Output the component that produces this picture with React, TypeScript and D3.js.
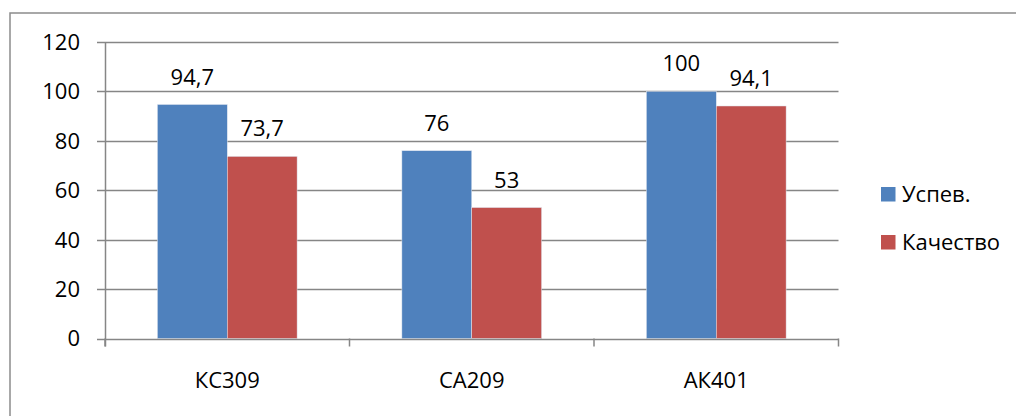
import React from "react";
import * as d3 from "d3";

const categories = ["КС309", "СА209", "АК401"];
const seriesNames = ["Успев.", "Качество"];
const uspev = [94.7, 76, 100];
const kachestvo = [73.7, 53, 94.1];
const yTicks = [0, 20, 40, 60, 80, 100, 120];
const colors = ["#4F81BD", "#C0504D"];

const W = 1016;
const H = 416;
const plot = { left: 105, right: 838.5, top: 42, bottom: 338.5 };
const FONT = "'Open Sans', sans-serif";
const FS = 22;

export default function App() {
  const x = d3.scaleBand<string>().domain(categories).range([plot.left, plot.right]).paddingInner(0).paddingOuter(0);
  const y = d3.scaleLinear().domain([0, 120]).range([plot.bottom, plot.top]);
  const bw = x.bandwidth() / 3.5;
  const series = [uspev, kachestvo];
  const fmt = (v: number) => String(v).replace(".", ",");
  const grid = "#868686";

  return (
    <svg width={W} height={H} style={{ position: "absolute", left: 0, top: 0, background: "#fff" }}>
      <rect x={0} y={0} width={W} height={H} fill="#fff" />
      <rect x={10} y={13} width={W + 20} height={H + 20} fill="none" stroke="#8c8c8c" strokeWidth={1.5} />
      {yTicks.filter((t) => t !== 0).map((t) => (
        <line key={"g" + t} x1={plot.left} x2={plot.right} y1={Math.round(y(t)) + 0.5} y2={Math.round(y(t)) + 0.5} stroke={grid} strokeWidth={1.5} />
      ))}
      {yTicks.map((t) => (
        <line key={"t" + t} x1={plot.left - 8} x2={plot.left} y1={Math.round(y(t)) + 0.5} y2={Math.round(y(t)) + 0.5} stroke={grid} strokeWidth={1.5} />
      ))}
      {categories.map((c, ci) =>
        series.map((s, si) => {
          const x0 = (x(c) as number) + x.bandwidth() / 2 - bw + si * bw;
          return (
            <rect key={c + si} x={x0} y={y(s[ci])} width={bw} height={y(0) - y(s[ci])} fill={colors[si]} stroke="#dfe6f0" strokeWidth={0.5} />
          );
        })
      )}
      <line x1={plot.left + 0.5} x2={plot.left + 0.5} y1={plot.top} y2={plot.bottom + 8} stroke={grid} strokeWidth={1.5} />
      <line x1={plot.left} x2={plot.right} y1={Math.round(y(0)) + 0.5} y2={Math.round(y(0)) + 0.5} stroke={grid} strokeWidth={1.5} />
      {[...categories.map((c) => x(c) as number), plot.right].map((v, i) => (
        <line key={"xt" + i} x1={v} x2={v} y1={plot.bottom} y2={plot.bottom + 8} stroke={grid} strokeWidth={1.5} />
      ))}
      {yTicks.map((t) => (
        <text key={"yl" + t} x={80} y={y(t)} dy="0.36em" textAnchor="end" fontFamily={FONT} fontSize={FS} fill="#000">{t}</text>
      ))}
      {categories.map((c) => (
        <text key={"xl" + c} x={(x(c) as number) + x.bandwidth() / 2} y={388} textAnchor="middle" fontFamily={FONT} fontSize={FS} fill="#000">{c}</text>
      ))}
      {categories.map((c, ci) =>
        series.map((s, si) => {
          const cx = (x(c) as number) + x.bandwidth() / 2 - bw + si * bw + bw / 2;
          return (
            <text key={"dl" + c + si} x={cx} y={y(s[ci]) - 20} textAnchor="middle" fontFamily={FONT} fontSize={FS} fill="#000">{fmt(s[ci])}</text>
          );
        })
      )}
      {seriesNames.map((n, i) => (
        <g key={n} transform={`translate(881, ${187 + i * 48})`}>
          <rect x={0} y={0} width={14.5} height={14.5} fill={colors[i]} />
          <text x={21} y={7.5} dy="0.36em" fontFamily={FONT} fontSize={FS} fill="#000">{n}</text>
        </g>
      ))}
    </svg>
  );
}
